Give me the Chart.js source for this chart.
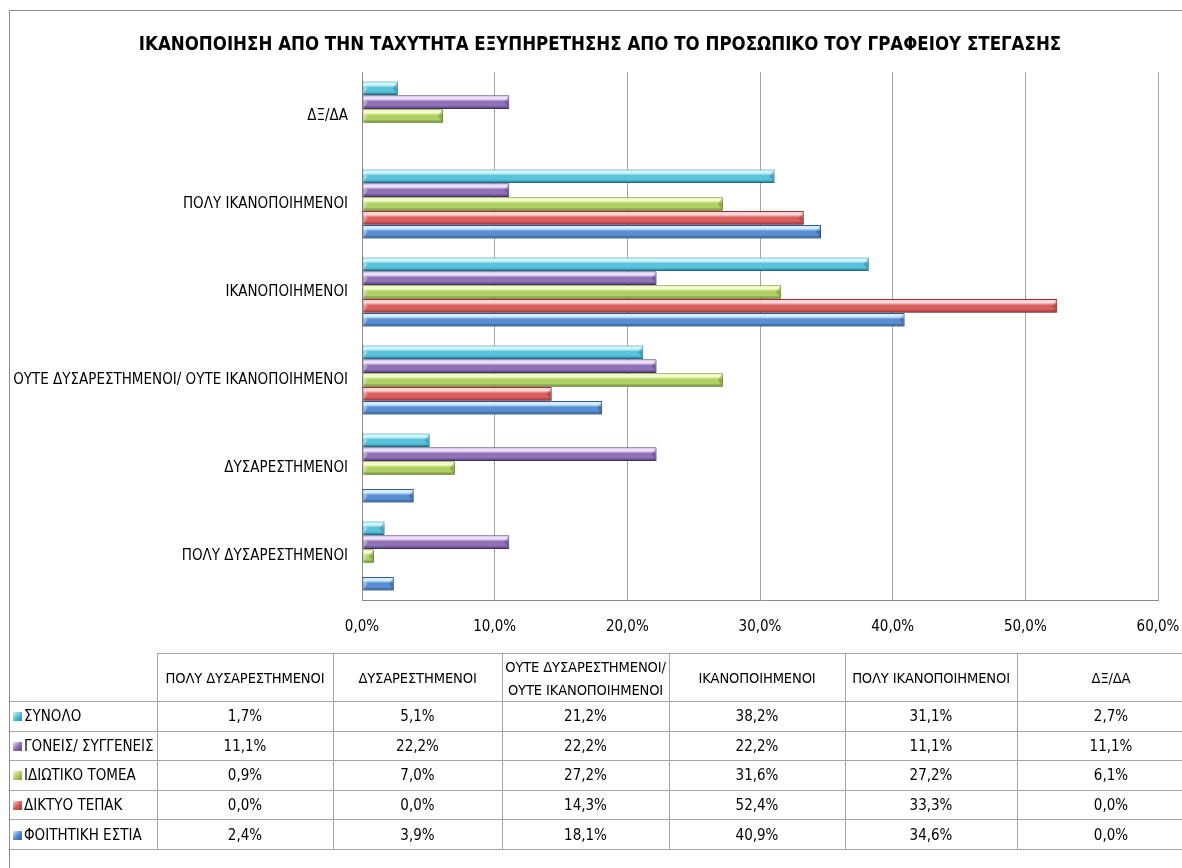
<!DOCTYPE html>
<html>
<head>
<meta charset="utf-8">
<script src="https://cdn.jsdelivr.net/npm/chart.js@4.4.1/dist/chart.umd.min.js"></script>
<style>
  html, body { margin: 0; padding: 0; background: #fff; overflow: hidden; }
  #wrap { position: relative; width: 1182px; height: 868px; overflow: hidden; }
  #chart { position: absolute; left: 0; top: 0; }
  #frame { position: absolute; left: 9px; top: 10px; width: 1400px; height: 1000px;
           border: 1px solid #8c8c8c; pointer-events: none; }
  #title { position: absolute; left: 0; top: 33px; width: 1200px; text-align: center;
           font-family: "DejaVu Sans Condensed", sans-serif; font-weight: bold; font-size: 18.5px;
           line-height: 22px; color: #000; white-space: nowrap; }
  #tbl { position: absolute; left: 10px; top: 653px; width: 1195px; border-collapse: collapse; table-layout: fixed;
         font-family: "DejaVu Sans Condensed", sans-serif; font-size: 15px; color: #000; }
  #tbl td { border: 1px solid #a6a6a6; text-align: center; padding: 0; height: 28.6px; line-height: 18px; }
  #tbl tr.head td { height: 47px; font-size: 14.6px; letter-spacing: -0.15px; line-height: 23px; }
  #tbl td.name { text-align: left; padding-left: 3px; border-left: none; white-space: nowrap; }
  #tbl tr.head td.corner { border-top: none; border-left: none; }
  .mk { display: inline-block; width: 9px; height: 9px; margin-right: 2px; vertical-align: 0px; }
</style>
</head>
<body>
<div id="wrap">
  <canvas id="chart" width="1182" height="868"></canvas>
  <div id="frame"></div>
  <div id="title"></div>
  <table id="tbl"></table>
</div>
<script>
// Response categories, in the order of the data table columns
const categories = [
  'ΠΟΛΥ ΔΥΣΑΡΕΣΤΗΜΕΝΟΙ',
  'ΔΥΣΑΡΕΣΤΗΜΕΝΟΙ',
  'ΟΥΤΕ ΔΥΣΑΡΕΣΤΗΜΕΝΟΙ/ ΟΥΤΕ ΙΚΑΝΟΠΟΙΗΜΕΝΟΙ',
  'ΙΚΑΝΟΠΟΙΗΜΕΝΟΙ',
  'ΠΟΛΥ ΙΚΑΝΟΠΟΙΗΜΕΝΟΙ',
  'ΔΞ/ΔΑ'
];

// Percentages per respondent group
const synolo   = [1.7, 5.1, 21.2, 38.2, 31.1, 2.7];
const goneis   = [11.1, 22.2, 22.2, 22.2, 11.1, 11.1];
const idiotiko = [0.9, 7.0, 27.2, 31.6, 27.2, 6.1];
const diktyo   = [0.0, 0.0, 14.3, 52.4, 33.3, 0.0];
const estia    = [2.4, 3.9, 18.1, 40.9, 34.6, 0.0];

const seriesNames = ['ΣΥΝΟΛΟ', 'ΓΟΝΕΙΣ/ ΣΥΓΓΕΝΕΙΣ', 'ΙΔΙΩΤΙΚΟ ΤΟΜΕΑ', 'ΔΙΚΤΥΟ ΤΕΠΑΚ', 'ΦΟΙΤΗΤΙΚΗ ΕΣΤΙΑ'];
const seriesValues = [synolo, goneis, idiotiko, diktyo, estia];

// Value axis ticks
const xTickMin = 0;
const xTickMax = 60;
const xTickStep = 10;

const title = 'ΙΚΑΝΟΠΟΙΗΣΗ ΑΠΟ ΤΗΝ ΤΑΧΥΤΗΤΑ ΕΞΥΠΗΡΕΤΗΣΗΣ ΑΠΟ ΤΟ ΠΡΟΣΩΠΙΚΟ ΤΟΥ ΓΡΑΦΕΙΟΥ ΣΤΕΓΑΣΗΣ';

const fills   = ['#58c3da', '#9073b8', '#afd064', '#d95f5d', '#588ed2'];
const borders = ['#2f8aa3', '#5e4581', '#76963a', '#9a3432', '#2f5d97'];
const lights  = ['#cff6fc', '#efe2fd', '#f7fccb', '#fcd8d8', '#d2ecfc'];

const FONT = '"DejaVu Sans Condensed", sans-serif';
const fmt = v => v.toFixed(1).replace('.', ',') + '%';

document.getElementById('title').textContent = title;

// The chart lists categories from top to bottom in reverse table order
const chartLabels = categories.slice().reverse();

const datasets = seriesNames.map((name, i) => ({
  label: name,
  data: seriesValues[i].slice().reverse(),
  backgroundColor: fills[i],
  borderColor: borders[i],
  borderWidth: ctx => (ctx.raw === 0 ? 0 : 1),
  borderSkipped: false,
  categoryPercentage: 0.79,
  barPercentage: 0.98
}));

// Glossy bevel shading with a soft drop shadow on each bar
const bevelPlugin = {
  id: 'bevel',
  beforeDatasetsDraw(chart) {
    const c = chart.ctx;
    c.save();
    c.shadowColor = 'rgba(0,0,0,0.35)';
    c.shadowBlur = 3;
    c.shadowOffsetX = 1;
    c.shadowOffsetY = 2;
  },
  afterDatasetsDraw(chart) {
    const c = chart.ctx;
    c.restore();
    chart.data.datasets.forEach((ds, di) => {
      const meta = chart.getDatasetMeta(di);
      meta.data.forEach(el => {
        const p = el.getProps(['x', 'y', 'base', 'height'], true);
        const w = p.x - p.base;
        if (w <= 0.5) return;
        const top = p.y - p.height / 2 + 1;
        const h = p.height - 2;
        const g = c.createLinearGradient(0, top, 0, top + h);
        g.addColorStop(0, lights[di]);
        g.addColorStop(0.22, lights[di]);
        g.addColorStop(0.45, fills[di]);
        g.addColorStop(0.8, fills[di]);
        g.addColorStop(1, borders[di]);
        c.save();
        c.fillStyle = g;
        c.fillRect(p.base + 1, top, w - 2, h);
        // end caps
        const cap = Math.min(4, w / 2);
        c.fillStyle = 'rgba(255,255,255,0.35)';
        c.beginPath();
        c.moveTo(p.base + 1, top);
        c.lineTo(p.base + 1 + cap, top + h / 2);
        c.lineTo(p.base + 1, top + h);
        c.closePath();
        c.fill();
        c.fillStyle = 'rgba(0,0,0,0.18)';
        c.beginPath();
        c.moveTo(p.x - 1, top);
        c.lineTo(p.x - 1 - cap, top + h / 2);
        c.lineTo(p.x - 1, top + h);
        c.closePath();
        c.fill();
        c.restore();
      });
    });
  }
};

new Chart(document.getElementById('chart'), {
  type: 'bar',
  data: { labels: chartLabels, datasets },
  plugins: [bevelPlugin],
  options: {
    indexAxis: 'y',
    responsive: false,
    animation: false,
    layout: { padding: { left: 0, right: 24, top: 72, bottom: 228 } },
    plugins: {
      legend: { display: false },
      tooltip: { enabled: false },
      title: { display: false }
    },
    scales: {
      x: {
        min: xTickMin,
        max: xTickMax,
        afterFit: s => { s.height = 40; s.paddingRight = 0; s.paddingLeft = 0; },
        ticks: {
          stepSize: xTickStep,
          padding: 18,
          color: '#000',
          font: { family: FONT, size: 15 },
          callback: v => fmt(v)
        },
        grid: { color: '#a6a6a6', drawTicks: false },
        border: { color: '#8c8c8c' }
      },
      y: {
        afterFit: s => { s.width = 362; },
        ticks: {
          padding: 14,
          color: '#000',
          font: { family: FONT, size: 15 }
        },
        grid: { display: false, drawTicks: false },
        border: { color: '#8c8c8c' }
      }
    }
  }
});

// Data table under the chart
const colWidths = [147, 176, 169, 167, 176, 172, 188];
const tbl = document.getElementById('tbl');
const cg = document.createElement('colgroup');
colWidths.forEach(w => { const col = document.createElement('col'); col.style.width = w + 'px'; cg.appendChild(col); });
tbl.appendChild(cg);
const head = document.createElement('tr');
head.className = 'head';
const corner = document.createElement('td');
corner.className = 'corner';
head.appendChild(corner);
categories.forEach(cat => {
  const td = document.createElement('td');
  td.textContent = cat;
  head.appendChild(td);
});
tbl.appendChild(head);
seriesNames.forEach((name, i) => {
  const tr = document.createElement('tr');
  const th = document.createElement('td');
  th.className = 'name';
  const mk = document.createElement('span');
  mk.className = 'mk';
  mk.style.background = `linear-gradient(135deg, ${lights[i]} 0%, ${fills[i]} 50%, ${borders[i]} 100%)`;
  th.appendChild(mk);
  th.appendChild(document.createTextNode(name));
  tr.appendChild(th);
  seriesValues[i].forEach(v => {
    const td = document.createElement('td');
    td.textContent = fmt(v);
    tr.appendChild(td);
  });
  tbl.appendChild(tr);
});
</script>
</body>
</html>
